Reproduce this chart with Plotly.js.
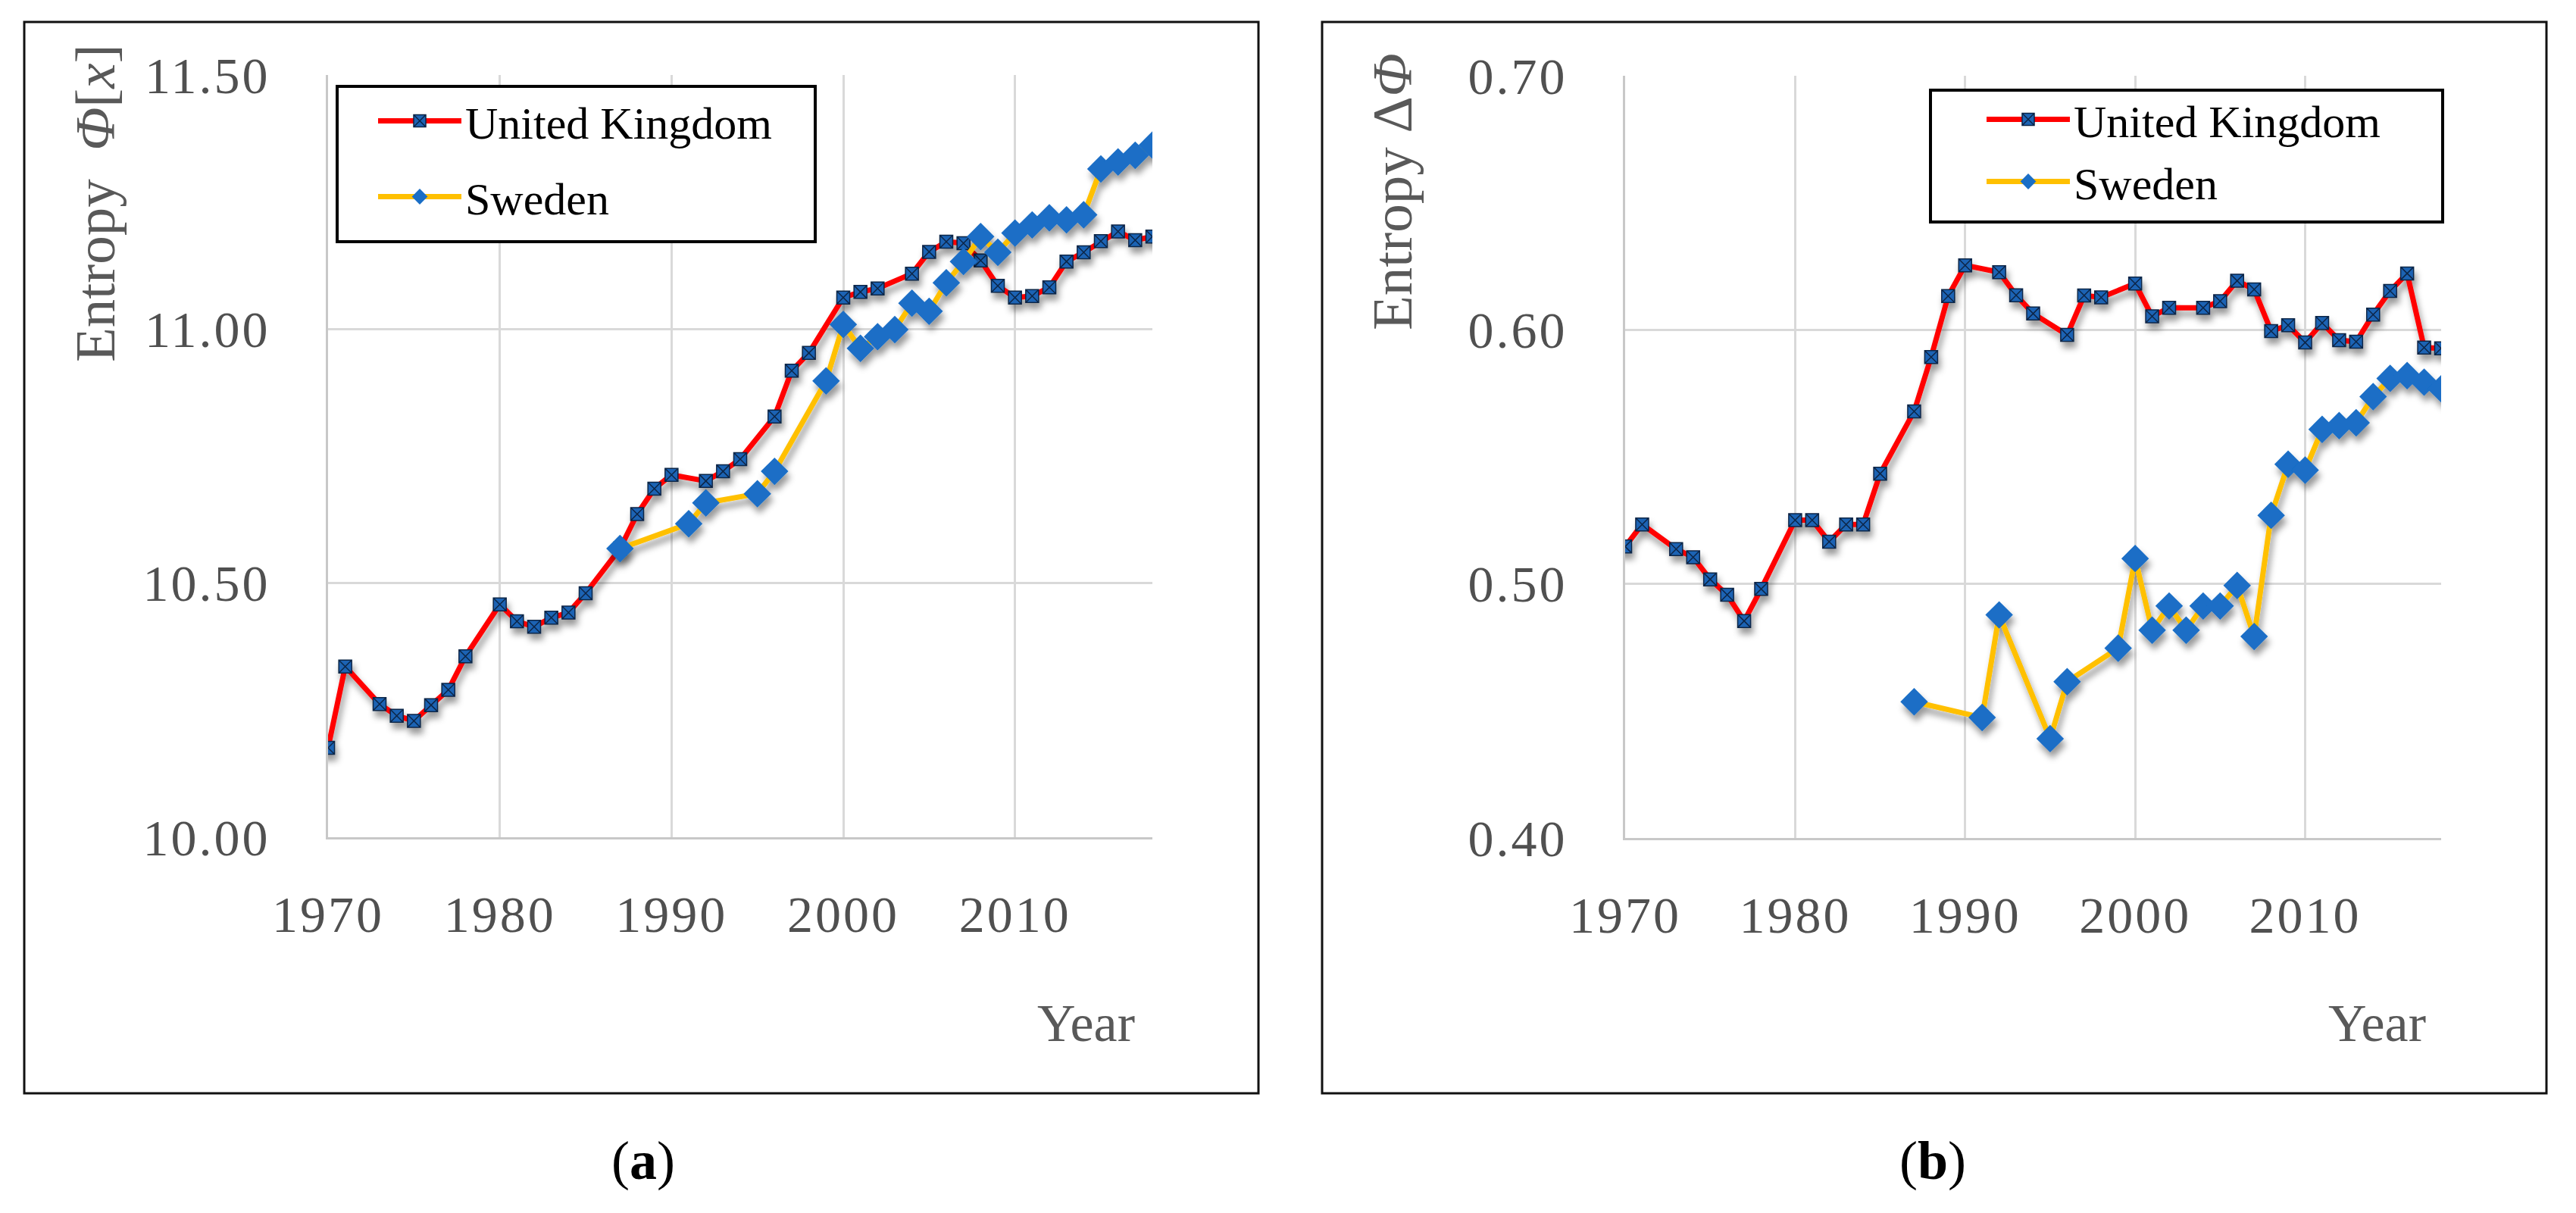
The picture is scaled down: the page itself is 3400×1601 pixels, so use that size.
<!DOCTYPE html>
<html>
<head>
<meta charset="utf-8">
<script src="https://cdn.plot.ly/plotly-3.0.1.min.js"></script>
<style>
  html, body { margin: 0; padding: 0; background: #fff; }
  #chart { width: 3400px; height: 1601px; }
  .xtick text, .ytick text, .x2tick text, .y2tick text { letter-spacing: 3px; }
</style>
</head>
<body>
<div id="chart"></div>
<script>
// ---------- data ----------
const ukYears = [1970,1971,1973,1974,1975,1976,1977,1978,1980,1981,1982,1983,1984,1985,1987,1988,1989,1990,1992,1993,1994,1996,1997,1998,2000,2001,2002,2004,2005,2006,2007,2008,2009,2010,2011,2012,2013,2014,2015,2016,2017,2018];
const ukEntropy = [10.176,10.336,10.262,10.239,10.229,10.260,10.290,10.356,10.458,10.425,10.414,10.432,10.442,10.480,10.568,10.636,10.686,10.713,10.701,10.720,10.744,10.828,10.918,10.953,11.062,11.073,11.080,11.109,11.152,11.172,11.169,11.135,11.085,11.062,11.065,11.082,11.133,11.151,11.173,11.192,11.175,11.182];
const ukDelta = [0.5147,0.5234,0.5137,0.5105,0.5018,0.4957,0.4854,0.4980,0.5251,0.5251,0.5166,0.5234,0.5234,0.5434,0.5679,0.5893,0.6133,0.6254,0.6227,0.6136,0.6064,0.5980,0.6135,0.6128,0.6182,0.6053,0.6087,0.6087,0.6113,0.6193,0.6159,0.5995,0.6018,0.5950,0.6027,0.5959,0.5953,0.6060,0.6153,0.6222,0.5930,0.5927];

const seYears = [1987,1991,1992,1995,1996,1999,2000,2001,2002,2003,2004,2005,2006,2007,2008,2009,2010,2011,2012,2013,2014,2015,2016,2017,2018];
const seEntropy = [10.568,10.617,10.658,10.676,10.720,10.898,11.009,10.962,10.985,10.999,11.051,11.035,11.091,11.133,11.182,11.151,11.189,11.205,11.219,11.215,11.225,11.315,11.329,11.342,11.362];
const seDelta = [0.4536,0.4474,0.4878,0.4391,0.4615,0.4747,0.5100,0.4818,0.4913,0.4818,0.4913,0.4913,0.4994,0.4793,0.5270,0.5471,0.5448,0.5608,0.5623,0.5634,0.5737,0.5809,0.5820,0.5794,0.5768];

const seriesNames = ["United Kingdom", "Sweden"];
const xTicks = [1970,1980,1990,2000,2010];
const yTicksA = [10.00,10.50,11.00,11.50];
const yTicksB = [0.40,0.50,0.60,0.70];

// ---------- styling ----------
const W = 3400, H = 1601;
const px = v => v / W;
const py = v => 1 - v / H;
const SERIF = "Liberation Serif, Times New Roman, serif";
const RED = "#FF0000", GOLD = "#FFC000", BLUE = "#1A6EC6";

const ukStyle = {
  mode: "lines+markers",
  line: {color: RED, width: 7},
  marker: {symbol: "square-x", size: 17, color: "#1E64B4", line: {color: "#0B2547", width: 1.5}}
};
const seStyle = {
  mode: "lines+markers",
  line: {color: GOLD, width: 7},
  marker: {symbol: "diamond", size: 28, color: BLUE, line: {width: 0}}
};

const traces = [
  Object.assign({x: ukYears, y: ukEntropy, name: seriesNames[0], xaxis: "x", yaxis: "y", legend: "legend", legendgroup: "a1"}, ukStyle),
  Object.assign({x: seYears, y: seEntropy, name: seriesNames[1], xaxis: "x", yaxis: "y", legend: "legend", legendgroup: "a2"}, seStyle),
  Object.assign({x: ukYears, y: ukDelta, name: seriesNames[0], xaxis: "x2", yaxis: "y2", legend: "legend2", legendgroup: "b1"}, ukStyle),
  Object.assign({x: seYears, y: seDelta, name: seriesNames[1], xaxis: "x2", yaxis: "y2", legend: "legend2", legendgroup: "b2"}, seStyle)
];

const tickFont = {family: SERIF, size: 68, color: "#505050"};
function xAxis(domain, anchor) {
  return {
    domain: domain, anchor: anchor, range: [1970, 2018],
    tickmode: "array", tickvals: xTicks, ticktext: xTicks.map(String),
    showgrid: true, gridcolor: "#D9D9D9", gridwidth: 3,
    showline: true, linecolor: "#C8C8C8", linewidth: 3,
    zeroline: false, ticks: "", ticklabelstandoff: 40,
    tickfont: tickFont, fixedrange: true
  };
}
function yAxis(domain, anchor, range, vals) {
  return {
    domain: domain, anchor: anchor, range: range,
    tickmode: "array", tickvals: vals, ticktext: vals.map(v => v.toFixed(2)),
    showgrid: true, gridcolor: "#D9D9D9", gridwidth: 3,
    showline: true, linecolor: "#C8C8C8", linewidth: 3,
    zeroline: false, ticks: "", ticklabelstandoff: 60,
    tickfont: tickFont, fixedrange: true
  };
}

const legendBase = {
  xanchor: "left", yanchor: "top",
  bgcolor: "rgba(0,0,0,0)", borderwidth: 0,
  font: {family: SERIF, size: 60, color: "#000000"},
  itemwidth: 110, traceorder: "grouped",
  itemclick: false, itemdoubleclick: false
};

const annFont = {family: SERIF, size: 70, color: "#595959"};
const yTitleFont = {family: SERIF, size: 75, color: "#595959"};
const layout = {
  width: W, height: H,
  margin: {l: 0, r: 0, t: 0, b: 0},
  paper_bgcolor: "#FFFFFF", plot_bgcolor: "#FFFFFF",
  showlegend: true,
  xaxis: xAxis([px(433), px(1521)], "y"),
  yaxis: yAxis([py(1105), py(99)], "x", [10, 11.5], yTicksA),
  xaxis2: xAxis([px(2145), px(3222)], "y2"),
  yaxis2: yAxis([py(1106), py(100)], "x2", [0.4, 0.7], yTicksB),
  legend: Object.assign({x: px(494), y: py(114), tracegroupgap: 19}, legendBase),
  legend2: Object.assign({x: px(2617), y: py(112), tracegroupgap: 1}, legendBase),
  shapes: [
    {type: "rect", xref: "paper", yref: "paper", x0: px(32), x1: px(1661), y0: py(1443), y1: py(29), line: {color: "#111", width: 3}, layer: "below"},
    {type: "rect", xref: "paper", yref: "paper", x0: px(1745), x1: px(3361), y0: py(1443), y1: py(29), line: {color: "#111", width: 3}, layer: "below"},
    {type: "rect", xref: "paper", yref: "paper", x0: px(445), x1: px(1076), y0: py(319), y1: py(114), line: {color: "#000", width: 4}, fillcolor: "#FFFFFF", layer: "above"},
    {type: "rect", xref: "paper", yref: "paper", x0: px(2548), x1: px(3224), y0: py(293), y1: py(119), line: {color: "#000", width: 4}, fillcolor: "#FFFFFF", layer: "above"}
  ],
  annotations: [
    {xref: "paper", yref: "paper", x: px(125), y: py(268), text: "Entropy&#160;&#160;<i>Φ</i>[<i>x</i>]", textangle: -90, showarrow: false, xanchor: "center", yanchor: "middle", font: yTitleFont},
    {xref: "paper", yref: "paper", x: px(1838), y: py(253), text: "Entropy Δ<i>Φ</i>", textangle: -90, showarrow: false, xanchor: "center", yanchor: "middle", font: yTitleFont},
    {xref: "paper", yref: "paper", x: px(1500), y: py(1350), text: "Year", showarrow: false, xanchor: "right", yanchor: "middle", font: annFont},
    {xref: "paper", yref: "paper", x: px(3204), y: py(1350), text: "Year", showarrow: false, xanchor: "right", yanchor: "middle", font: annFont},
    {xref: "paper", yref: "paper", x: px(849), y: py(1532), text: "(<b>a</b>)", showarrow: false, xanchor: "center", yanchor: "middle", font: {family: SERIF, size: 72, color: "#000"}},
    {xref: "paper", yref: "paper", x: px(2551), y: py(1532), text: "(<b>b</b>)", showarrow: false, xanchor: "center", yanchor: "middle", font: {family: SERIF, size: 72, color: "#000"}}
  ]
};

Plotly.newPlot("chart", traces, layout, {displayModeBar: false, staticPlot: true}).then(gd => {
  // soft drop shadow under the series, as in the original spreadsheet chart
  const ns = "http://www.w3.org/2000/svg";
  const svg = gd.querySelector(".main-svg");
  let defs = svg.querySelector("defs");
  if (!defs) { defs = document.createElementNS(ns, "defs"); svg.insertBefore(defs, svg.firstChild); }
  const f = document.createElementNS(ns, "filter");
  f.setAttribute("id", "seriesShadow");
  f.setAttribute("x", "-5%"); f.setAttribute("y", "-5%");
  f.setAttribute("width", "115%"); f.setAttribute("height", "120%");
  const ds = document.createElementNS(ns, "feDropShadow");
  ds.setAttribute("dx", "3"); ds.setAttribute("dy", "8");
  ds.setAttribute("stdDeviation", "4");
  ds.setAttribute("flood-color", "#000"); ds.setAttribute("flood-opacity", "0.4");
  f.appendChild(ds);
  defs.appendChild(f);
  gd.querySelectorAll(".scatterlayer .trace").forEach(g => g.setAttribute("filter", "url(#seriesShadow)"));
});
</script>
</body>
</html>
